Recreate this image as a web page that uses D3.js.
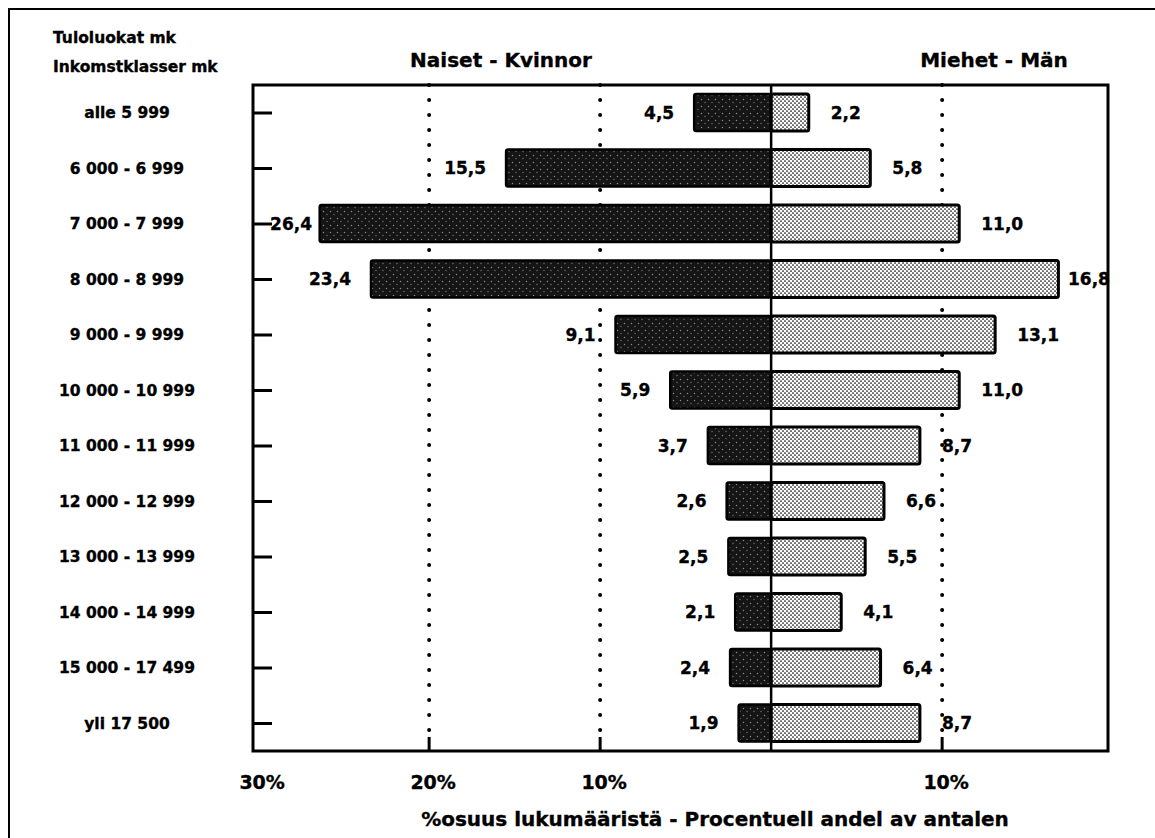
<!DOCTYPE html>
<html>
<head>
<meta charset="utf-8">
<script src="https://cdn.jsdelivr.net/npm/d3@7"></script>
<style>
  body { margin: 0; background: #fff; }
  text { font-family: "DejaVu Sans", sans-serif; font-weight: bold; fill: #000; stroke: #000; stroke-width: 0.35px; }
</style>
</head>
<body>
<div id="container"></div>
<script>
/* DATA */
const categories = ["alle 5 999", "6 000 - 6 999", "7 000 - 7 999", "8 000 - 8 999",
  "9 000 - 9 999", "10 000 - 10 999", "11 000 - 11 999", "12 000 - 12 999",
  "13 000 - 13 999", "14 000 - 14 999", "15 000 - 17 499", "yli 17 500"];
const naiset = [4.5, 15.5, 26.4, 23.4, 9.1, 5.9, 3.7, 2.6, 2.5, 2.1, 2.4, 1.9];
const miehet = [2.2, 5.8, 11.0, 16.8, 13.1, 11.0, 8.7, 6.6, 5.5, 4.1, 6.4, 8.7];
const tickValues = [-30, -20, -10, 10];
const gridValues = [-20, -10, 10];

/* CONSTANTS */
const width = 1155, height = 838;
const plot = { left: 253, right: 1108, top: 85, bottom: 751 };
const barH = 37;

const locale = d3.formatLocale({ decimal: ",", thousands: " ", grouping: [3], currency: ["", ""] });
const fmt = locale.format(".1f");

const rows = categories.map((c, i) => ({ cat: c, w: naiset[i], m: miehet[i] }));

// SCALES
const xScale = d3.scaleLinear()
  .domain([-30.3, 19.7])
  .range([plot.left, plot.right]);

const yScale = d3.scalePoint()
  .domain(categories)
  .range([112.5, 723]);

// SVG
const svg = d3.select("#container")
  .append("svg")
  .attr("width", width)
  .attr("height", height);

// patterns for the scanned-looking fills
const defs = svg.append("defs");
const dark = defs.append("pattern")
  .attr("id", "dark").attr("patternUnits", "userSpaceOnUse")
  .attr("width", 7).attr("height", 7);
dark.append("rect").attr("width", 7).attr("height", 7).attr("fill", "#151515");
dark.append("circle").attr("cx", 1.5).attr("cy", 1.5).attr("r", 0.75).attr("fill", "#8a8a8a");
dark.append("circle").attr("cx", 5).attr("cy", 4.5).attr("r", 0.65).attr("fill", "#777");

const light = defs.append("pattern")
  .attr("id", "light").attr("patternUnits", "userSpaceOnUse")
  .attr("width", 4).attr("height", 4);
light.append("rect").attr("width", 4).attr("height", 4).attr("fill", "#fff");
light.append("circle").attr("cx", 1).attr("cy", 1).attr("r", 0.85).attr("fill", "#000");
light.append("circle").attr("cx", 3).attr("cy", 3).attr("r", 0.85).attr("fill", "#000");

// outer frame (runs off the page at right and bottom)
svg.append("path")
  .attr("d", `M9,${height} L9,9 L${width},9`)
  .attr("fill", "none")
  .attr("stroke", "#000")
  .attr("stroke-width", 2);

// dotted grid lines
svg.selectAll(".grid")
  .data(gridValues)
  .join("line")
  .attr("class", "grid")
  .attr("x1", d => xScale(d)).attr("x2", d => xScale(d))
  .attr("y1", plot.top).attr("y2", plot.bottom - 14)
  .attr("stroke", "#000")
  .attr("stroke-width", 4)
  .attr("stroke-linecap", "round")
  .attr("stroke-dasharray", "0,15");

// short solid ticks at the bottom of grid lines
svg.selectAll(".btick")
  .data(gridValues)
  .join("line")
  .attr("class", "btick")
  .attr("x1", d => xScale(d)).attr("x2", d => xScale(d))
  .attr("y1", plot.bottom - 14).attr("y2", plot.bottom)
  .attr("stroke", "#000")
  .attr("stroke-width", 3);

// BARS - women (left)
svg.selectAll(".bar-w")
  .data(rows)
  .join("rect")
  .attr("class", "bar-w")
  .attr("x", d => xScale(-d.w))
  .attr("y", d => yScale(d.cat) - barH / 2)
  .attr("width", d => xScale(0) - xScale(-d.w))
  .attr("height", barH)
  .attr("rx", 2)
  .attr("fill", "url(#dark)")
  .attr("stroke", "#000")
  .attr("stroke-width", 2.5);

// BARS - men (right)
svg.selectAll(".bar-m")
  .data(rows)
  .join("rect")
  .attr("class", "bar-m")
  .attr("x", xScale(0))
  .attr("y", d => yScale(d.cat) - barH / 2)
  .attr("width", d => xScale(d.m) - xScale(0))
  .attr("height", barH)
  .attr("rx", 2)
  .attr("fill", "url(#light)")
  .attr("stroke", "#000")
  .attr("stroke-width", 3);

// centre line
svg.append("line")
  .attr("x1", xScale(0)).attr("x2", xScale(0))
  .attr("y1", plot.top).attr("y2", plot.bottom)
  .attr("stroke", "#000")
  .attr("stroke-width", 2.5);

// plot frame
svg.append("rect")
  .attr("x", plot.left).attr("y", plot.top)
  .attr("width", plot.right - plot.left)
  .attr("height", plot.bottom - plot.top)
  .attr("fill", "none")
  .attr("stroke", "#000")
  .attr("stroke-width", 3);

// left axis ticks (pointing inward)
const yAxis = d3.axisLeft(yScale).tickSize(-19).tickFormat("");
const gy = svg.append("g")
  .attr("transform", `translate(${plot.left},0)`)
  .call(yAxis);
gy.select(".domain").remove();
gy.selectAll(".tick line").attr("stroke", "#000").attr("stroke-width", 3);

// category labels
svg.selectAll(".cat")
  .data(categories)
  .join("text")
  .attr("class", "cat")
  .attr("x", 127)
  .attr("y", d => yScale(d) + 5.5)
  .attr("text-anchor", "middle")
  .attr("font-size", 15.5)
  .text(d => d);

// value labels
svg.selectAll(".val-w")
  .data(rows)
  .join("text")
  .attr("class", "val-w")
  .attr("x", d => Math.max(xScale(-d.w) - 20, plot.left + 59))
  .attr("y", d => yScale(d.cat) + 6)
  .attr("text-anchor", "end")
  .attr("font-size", 17)
  .text(d => fmt(d.w));

svg.selectAll(".val-m")
  .data(rows)
  .join("text")
  .attr("class", "val-m")
  .attr("x", d => Math.min(xScale(d.m) + 22, plot.right - 40))
  .attr("y", d => yScale(d.cat) + 6)
  .attr("font-size", 17)
  .text(d => fmt(d.m));

// x tick labels
svg.selectAll(".xt")
  .data(tickValues)
  .join("text")
  .attr("class", "xt")
  .attr("x", d => xScale(d) + 4)
  .attr("y", 789)
  .attr("text-anchor", "middle")
  .attr("font-size", 19)
  .text(d => Math.abs(d) + "%");

// headings
svg.append("text").attr("x", 53).attr("y", 43).attr("font-size", 15.5).text("Tuloluokat mk");
svg.append("text").attr("x", 53).attr("y", 72).attr("font-size", 15.5).text("Inkomstklasser mk");
svg.append("text").attr("x", 501).attr("y", 67).attr("text-anchor", "middle")
  .attr("font-size", 20).text("Naiset - Kvinnor");
svg.append("text").attr("x", 994).attr("y", 67).attr("text-anchor", "middle")
  .attr("font-size", 20).text("Miehet - Män");
svg.append("text").attr("x", 715).attr("y", 826).attr("text-anchor", "middle")
  .attr("font-size", 20).text("%osuus lukumääristä - Procentuell andel av antalen");
</script>
</body>
</html>
